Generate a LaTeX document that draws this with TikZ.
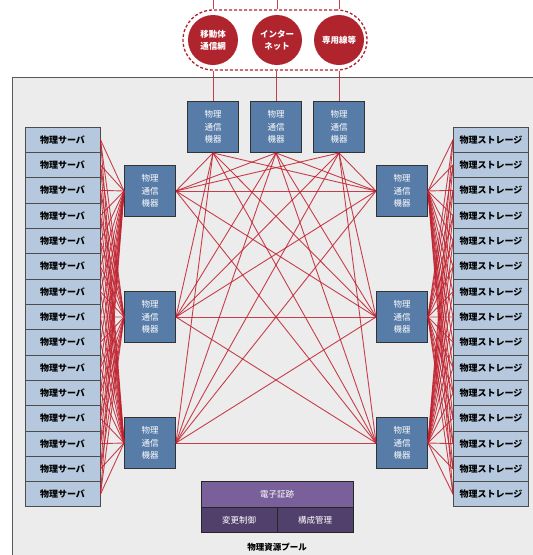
\documentclass[tikz,border=0pt]{standalone}
\usepackage{fontspec}
\setmainfont{Noto Sans CJK JP}
\usepackage{tikz}
\usetikzlibrary{calc}

\definecolor{poolgray}{RGB}{236,236,236}
\definecolor{srvblue}{RGB}{181,200,221}
\definecolor{swblue}{RGB}{88,124,168}
\definecolor{linkred}{RGB}{192,32,45}
\definecolor{netred}{RGB}{176,36,46}
\definecolor{evtop}{RGB}{122,96,154}
\definecolor{evbot}{RGB}{82,64,108}

\begin{document}
\begin{tikzpicture}[x=1pt,y=-1pt]
\tikzstyle{server} = [rectangle, minimum width=75pt, minimum height=25.3pt, inner sep=0pt, draw=black!70, line width=0.9pt, fill=srvblue, font=\fontsize{9}{10}\selectfont\bfseries]
\tikzstyle{switch} = [rectangle, minimum width=51pt, minimum height=51pt, inner sep=0pt, draw=black!80, line width=0.9pt, fill=swblue, text=white, align=center, font=\fontsize{8.5}{12.5}\selectfont]
\tikzstyle{net} = [circle, minimum size=50pt, inner sep=0pt, fill=netred, text=white, align=center, font=\fontsize{8.5}{12}\selectfont\bfseries]
\tikzstyle{cell} = [rectangle, inner sep=0pt, draw=black!85, line width=0.8pt, text=white, font=\fontsize{8.5}{9}\selectfont]
\tikzstyle{link} = [linkred, line width=0.9pt, opacity=0.85]

\useasboundingbox (0,0) rectangle (533,555);

% Physical resource pool
\draw[draw=black!65, fill=poolgray, line width=1pt] (12,77) rectangle (545,565);

% Networks
\node (cloud) [draw=netred, dashed, dash pattern=on 3pt off 2pt, line width=1.3pt, rounded corners=30pt, minimum width=184pt, minimum height=60pt] at (275,40) {};
\node (net1) [net] at (213,40) {移動体\\通信網};
\node (net2) [net] at (277,40) {インター\\ネット};
\node (net3) [net] at (339,40) {専用線等};

% Switches
\node (swT1) [switch] at (213,127) {物理\\通信\\機器};
\node (swT2) [switch] at (276,127) {物理\\通信\\機器};
\node (swT3) [switch] at (339,127) {物理\\通信\\機器};
\node (swL1) [switch] at (150,191) {物理\\通信\\機器};
\node (swL2) [switch] at (150,317) {物理\\通信\\機器};
\node (swL3) [switch] at (150,443) {物理\\通信\\機器};
\node (swR1) [switch] at (402,191) {物理\\通信\\機器};
\node (swR2) [switch] at (402,317) {物理\\通信\\機器};
\node (swR3) [switch] at (402,443) {物理\\通信\\機器};

% Servers and storages
\foreach \i in {1,...,15} {
  \node (srv\i) [server] at (62.5,{127+25.33*(\i-0.5)}) {物理サーバ};
  \node (stg\i) [server] at (491,{127+25.33*(\i-0.5)}) {物理ストレージ};
}

% Uplinks
\foreach \n in {1,2,3} {
  \coordinate (up\n) at (net\n |- 0,0);
  \draw[link] (up\n) -- (up\n |- cloud.north);
  \draw[link] (swT\n.north) -- (swT\n.north |- cloud.south);
}

% Mesh between switches
\foreach \a in {1,2,3} {
  \foreach \b in {1,2,3} {
    \draw[link] (swT\a.south) -- (swL\b.east);
    \draw[link] (swT\a.south) -- (swR\b.west);
    \draw[link] (swL\a.east) -- (swR\b.west);
  }
}

% Servers / storages to switches
\foreach \i in {1,...,15} {
  \foreach \b in {1,2,3} {
    \draw[link] (srv\i.east) -- (swL\b.west);
    \draw[link] (stg\i.west) -- (swR\b.east);
  }
}

% Evidence
\node (evid) [cell, fill=evtop, minimum width=152pt, minimum height=26pt] at (277,494) {電子証跡};
\node (chg) [cell, fill=evbot, minimum width=76pt, minimum height=25pt, anchor=north west] at (evid.south west) {変更制御};
\node (cfg) [cell, fill=evbot, minimum width=76pt, minimum height=25pt, anchor=north east] at (evid.south east) {構成管理};
\node (pool) [font=\fontsize{8.5}{9}\selectfont\bfseries] at (277,547) {物理資源プール};

\end{tikzpicture}
\end{document}
